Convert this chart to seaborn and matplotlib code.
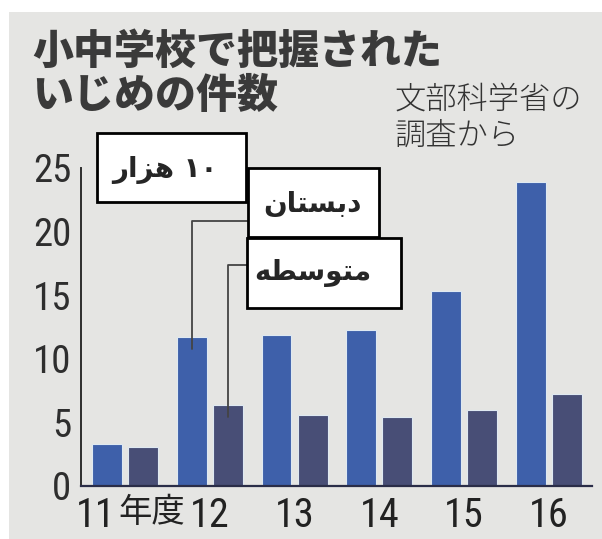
import numpy as np
import pandas as pd
import seaborn as sns
import matplotlib.pyplot as plt
import matplotlib.transforms as mtransforms
from matplotlib.patches import Rectangle
from matplotlib import font_manager

# ---------------- data ----------------
years = ["11", "12", "13", "14", "15", "16"]
year_suffix = "年度"
elementary = [3.3, 11.7, 11.9, 12.3, 15.3, 23.9]   # 10,000 cases
junior = [3.1, 6.4, 5.6, 5.4, 6.0, 7.2]
groups = ["elementary", "junior"]
yticks = [0, 5, 10, 15, 20, 25]
title_lines = ["小中学校で把握された", "いじめの件数"]
source_lines = ["文部科学省の", "調査から"]
# Persian labels, pre-shaped (presentation forms, visual order)
unit_label = "\uFEAD\uFE8D\uFEB0\uFEEB \u06F1\u06F0"        # ۱۰ هزار
elem_label = "\uFEE5\uFE8E\uFE98\uFEB4\uFE91\uFEA9"         # دبستان
junior_label = "\uFEEA\uFEC4\uFEB3\uFEEE\uFE98\uFEE3"       # متوسطه

# ---------------- style ----------------
BG = "#e5e5e3"
BLUE = "#3e60aa"
DARK = "#484e76"
INK = "#2e2e2e"

sns.set_style("white")
plt.rcParams["font.family"] = ["Noto Sans CJK JP", "DejaVu Sans"]

names = {f.name for f in font_manager.fontManager.ttflist}
cands = ["Roboto Condensed", "Liberation Sans Narrow", "Archivo Narrow",
         "Liberation Sans"]
NARROW = [c for c in cands if c in names][0]

W, H = 602, 539
fig = plt.figure(figsize=(W / 100, H / 100), dpi=100, facecolor="white")
fig.add_artist(Rectangle((9 / W, 0), 1, 527 / H, transform=fig.transFigure,
                         facecolor=BG, edgecolor="none", zorder=-10))

ax = fig.add_axes([81 / W, 53 / H, 511 / W, 318 / H])
ax.set_facecolor("none")

df = pd.DataFrame({
    "year": years * 2,
    "school": [groups[0]] * len(years) + [groups[1]] * len(years),
    "count": elementary + junior,
})
sns.barplot(data=df, x="year", y="count", hue="school", order=years,
            hue_order=groups, palette=[BLUE, DARK], width=0.85, gap=0.17,
            saturation=1, legend=False, edgecolor="#dfe9f2", linewidth=0.8,
            ax=ax)

ax.set_xlim(-0.52, 5.51)
ax.set_ylim(0, 25)
ax.set_yticks(yticks)
ax.set_xlabel("")
ax.set_ylabel("")
for s in ["top", "right"]:
    ax.spines[s].set_visible(False)
ax.spines["left"].set_color(INK)
ax.spines["left"].set_linewidth(1.4)
ax.spines["bottom"].set_color("#2a2d48")
ax.spines["bottom"].set_linewidth(1.6)
ax.spines["bottom"].set_zorder(5)

ax.tick_params(axis="y", direction="in", length=13, width=1.3, pad=7,
               labelsize=28, colors=INK)
ax.tick_params(axis="x", length=0, pad=7, labelsize=29, colors="#222222")
for lab in ax.get_xticklabels() + ax.get_yticklabels():
    lab.set_family([NARROW, "Noto Sans CJK JP"])
    lab.set_fontweight("normal")

# first category label "11" + "年度"
lab0 = ax.get_xticklabels()[0]
lab0.set_horizontalalignment("right")
lab0.set_transform(lab0.get_transform() +
                   mtransforms.ScaledTranslation(-7 / 72, 0, fig.dpi_scale_trans))
ax.annotate(year_suffix, xy=(0, 0), xycoords=("data", "axes fraction"),
            xytext=(-5, -6.5), textcoords="offset points", ha="left", va="top",
            fontsize=24, color="#222222", family="Noto Sans CJK JP",
            annotation_clip=False)

# ---------------- titles ----------------
fig.text(32 / W, 1 - 31 / H, title_lines[0], fontsize=29.5, fontweight="black",
         color="#3a3a3a", va="top", ha="left")
fig.text(32 / W, 1 - 75 / H, title_lines[1], fontsize=29.5, fontweight="black",
         color="#3a3a3a", va="top", ha="left")
fig.text(395 / W, 1 - 84 / H, source_lines[0], fontsize=22.5, fontweight="light",
         color="#333333", va="top", ha="left")
fig.text(395 / W, 1 - 120 / H, source_lines[1], fontsize=22.5, fontweight="light",
         color="#333333", va="top", ha="left")

# ---------------- label boxes ----------------
def box(x0, y0, x1, y1):
    fig.add_artist(Rectangle((x0 / W, 1 - y1 / H), (x1 - x0) / W, (y1 - y0) / H,
                             transform=fig.transFigure, facecolor="white",
                             edgecolor="black", linewidth=2, zorder=5))

box(97, 133, 246, 202)
box(248, 168, 379, 237)
box(247, 238, 401, 308)
fig.text(165 / W, 1 - 170 / H, unit_label, fontsize=20, fontweight="bold",
         family="DejaVu Sans", ha="center", va="center", zorder=6)
fig.text(312 / W, 1 - 204 / H, elem_label, fontsize=20, fontweight="bold",
         family="DejaVu Sans", ha="center", va="center", zorder=6)
fig.text(313 / W, 1 - 273 / H, junior_label, fontsize=20, fontweight="bold",
         family="DejaVu Sans", ha="center", va="center", zorder=6)

# ---------------- leader lines ----------------
b_elem = ax.containers[0][1]
b_jun = ax.containers[1][1]
for bar, start in [(b_elem, (248, H - 221)), (b_jun, (247, H - 265))]:
    cx = bar.get_x() + bar.get_width() / 2
    ax.annotate("", xy=(cx, bar.get_height() - 0.95), xycoords="data",
                xytext=start, textcoords="figure pixels", annotation_clip=False,
                arrowprops=dict(arrowstyle="-", color="#444444", lw=1.3,
                                shrinkA=0, shrinkB=0,
                                connectionstyle="angle,angleA=0,angleB=90,rad=0"),
                zorder=4)

fig.savefig("out.png", dpi=100, facecolor=fig.get_facecolor())
